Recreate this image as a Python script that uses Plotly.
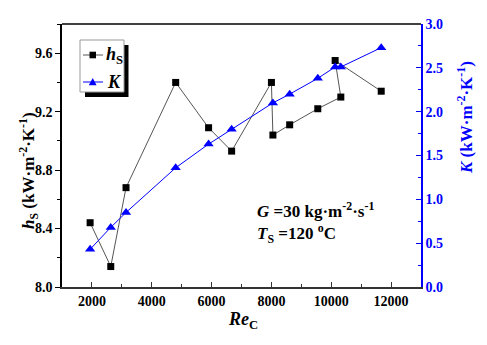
import plotly.graph_objects as go

# ---- data ----
re_hs = [1940, 2630, 3140, 4800, 5900, 6670, 8000, 8050, 8610, 9550, 10320, 10130, 11670]
hs = [8.44, 8.14, 8.68, 9.40, 9.09, 8.93, 9.40, 9.04, 9.11, 9.22, 9.30, 9.55, 9.34]
re_k = [1940, 2630, 3140, 4800, 5900, 6670, 8050, 8610, 9550, 10130, 10320, 11670]
k_vals = [0.43, 0.68, 0.85, 1.36, 1.63, 1.80, 2.10, 2.20, 2.38, 2.51, 2.51, 2.73]

x_ticks = [2000, 4000, 6000, 8000, 10000, 12000]

W, H = 487, 345
L, R, T, B = 62, 66, 24, 58
PW, PH = W - L - R, H - T - B
FONT = "Liberation Serif"
BLUE = "#0000ff"


def px(x):
    return (x - L) / PW


def py(y):
    return (H - B - y) / PH


fig = go.Figure()
fig.add_trace(go.Scatter(
    x=re_hs, y=hs, mode="lines+markers", name="hS",
    line=dict(color="#555555", width=1),
    marker=dict(symbol="square", size=7, color="black"),
    showlegend=False, yaxis="y"))
fig.add_trace(go.Scatter(
    x=re_k, y=k_vals, mode="lines+markers", name="K",
    line=dict(color=BLUE, width=1),
    marker=dict(symbol="triangle-up", size=9, color=BLUE),
    showlegend=False, yaxis="y2"))

tickfont = dict(family=FONT, size=14, color="black", weight="bold")

fig.update_layout(
    width=W, height=H,
    margin=dict(l=L, r=R, t=T, b=B, pad=0),
    paper_bgcolor="white", plot_bgcolor="white",
    font=dict(family=FONT),
    xaxis=dict(
        range=[1000, 13000], tickvals=x_ticks, ticktext=[str(v) for v in x_ticks],
        ticks="inside", ticklen=5, tickwidth=1.2, tickcolor="#333333",
        showline=True, linecolor="#333333", linewidth=1.5,
        showgrid=False, zeroline=False, tickfont=tickfont,
        minor=dict(dtick=1000, tick0=1000, ticks="inside", ticklen=3, tickcolor="#333333", tickwidth=1),
    ),
    yaxis=dict(
        range=[8.0, 9.8], tick0=8.0, dtick=0.4, tickformat=".1f",
        ticks="outside", ticklen=5, tickwidth=1.2, tickcolor="black",
        showline=True, linecolor="black", linewidth=1.5,
        showgrid=False, zeroline=False, tickfont=tickfont,
        minor=dict(dtick=0.2, tick0=8.0, ticks="outside", ticklen=3, tickcolor="black", tickwidth=1),
    ),
    yaxis2=dict(
        range=[0, 3.0], tick0=0, dtick=0.5, tickformat=".1f",
        overlaying="y", side="right", anchor="x",
        ticks="inside", ticklen=5, tickwidth=1.2, tickcolor=BLUE,
        showline=True, linecolor=BLUE, linewidth=1.5,
        showgrid=False, zeroline=False,
        tickfont=dict(family=FONT, size=14, color=BLUE, weight="bold"),
        minor=dict(dtick=0.25, tick0=0, ticks="inside", ticklen=3, tickcolor=BLUE, tickwidth=1),
    ),
    showlegend=False,
)

shapes = []
# top frame line
shapes.append(dict(type="line", xref="paper", yref="paper", x0=0, x1=1, y0=1, y1=1,
                   line=dict(color="black", width=1.5)))
# legend box with shadow
shapes.append(dict(type="rect", xref="paper", yref="paper",
                   x0=px(85), x1=px(128.5), y0=py(45), y1=py(97),
                   fillcolor="black", line=dict(width=0)))
shapes.append(dict(type="rect", xref="paper", yref="paper",
                   x0=px(80), x1=px(124), y0=py(40), y1=py(92),
                   fillcolor="white", line=dict(color="#999999", width=1)))
# legend samples
ly1, ly2 = 55, 82
shapes.append(dict(type="line", xref="paper", yref="paper", x0=px(83), x1=px(103),
                   y0=py(ly1), y1=py(ly1), line=dict(color="#555555", width=1)))
shapes.append(dict(type="rect", xref="paper", yref="paper",
                   x0=px(89.5), x1=px(96), y0=py(ly1 - 3.3), y1=py(ly1 + 3.3),
                   fillcolor="black", line=dict(width=0)))
shapes.append(dict(type="line", xref="paper", yref="paper", x0=px(83), x1=px(103),
                   y0=py(ly2), y1=py(ly2), line=dict(color=BLUE, width=1)))
tri = "M {:.5f},{:.5f} L {:.5f},{:.5f} L {:.5f},{:.5f} Z".format(
    px(88.8), py(ly2 + 3.2), px(96.6), py(ly2 + 3.2), px(92.7), py(ly2 - 4))
shapes.append(dict(type="path", xref="paper", yref="paper", path=tri,
                   fillcolor=BLUE, line=dict(width=0)))
fig.update_layout(shapes=shapes)

ann = []
ann.append(dict(xref="paper", yref="paper", x=px(104), y=py(ly1), xanchor="left", yanchor="middle",
                text="<b><i>h</i><sub>S</sub></b>", showarrow=False,
                font=dict(family=FONT, size=18, color="black")))
ann.append(dict(xref="paper", yref="paper", x=px(105), y=py(ly2), xanchor="left", yanchor="middle",
                text="<b><i>K</i></b>", showarrow=False,
                font=dict(family=FONT, size=18, color="black")))
# axis titles
ann.append(dict(xref="paper", yref="paper", x=px(28), y=py(171), xanchor="center", yanchor="middle",
                text="<b><i>h</i><sub>S</sub> (kW·m<sup>-2</sup>·K<sup>-1</sup>)</b>", textangle=-90,
                showarrow=False, font=dict(family=FONT, size=17, color="black")))
ann.append(dict(xref="paper", yref="paper", x=px(465), y=py(118), xanchor="center", yanchor="middle",
                text="<b><i>K</i> (kW·m<sup>-2</sup>·K<sup>-1</sup>)</b>", textangle=-90,
                showarrow=False, font=dict(family=FONT, size=17, color=BLUE)))
ann.append(dict(xref="paper", yref="paper", x=px(243), y=py(320), xanchor="center", yanchor="middle",
                text="<b><i>Re</i><sub>C</sub></b>", showarrow=False,
                font=dict(family=FONT, size=18, color="black")))
# condition text
ann.append(dict(xref="paper", yref="paper", x=px(255), y=py(210), xanchor="left", yanchor="middle",
                text="<b><i>G</i> =30 kg·m<sup>-2</sup>·s<sup>-1</sup></b>", showarrow=False,
                font=dict(family=FONT, size=17, color="black")))
ann.append(dict(xref="paper", yref="paper", x=px(255), y=py(233), xanchor="left", yanchor="middle",
                text="<b><i>T</i><sub>S</sub> =120 <sup>o</sup>C</b>", showarrow=False,
                font=dict(family=FONT, size=17, color="black")))
fig.update_layout(annotations=ann)

fig.write_html("out.html")
